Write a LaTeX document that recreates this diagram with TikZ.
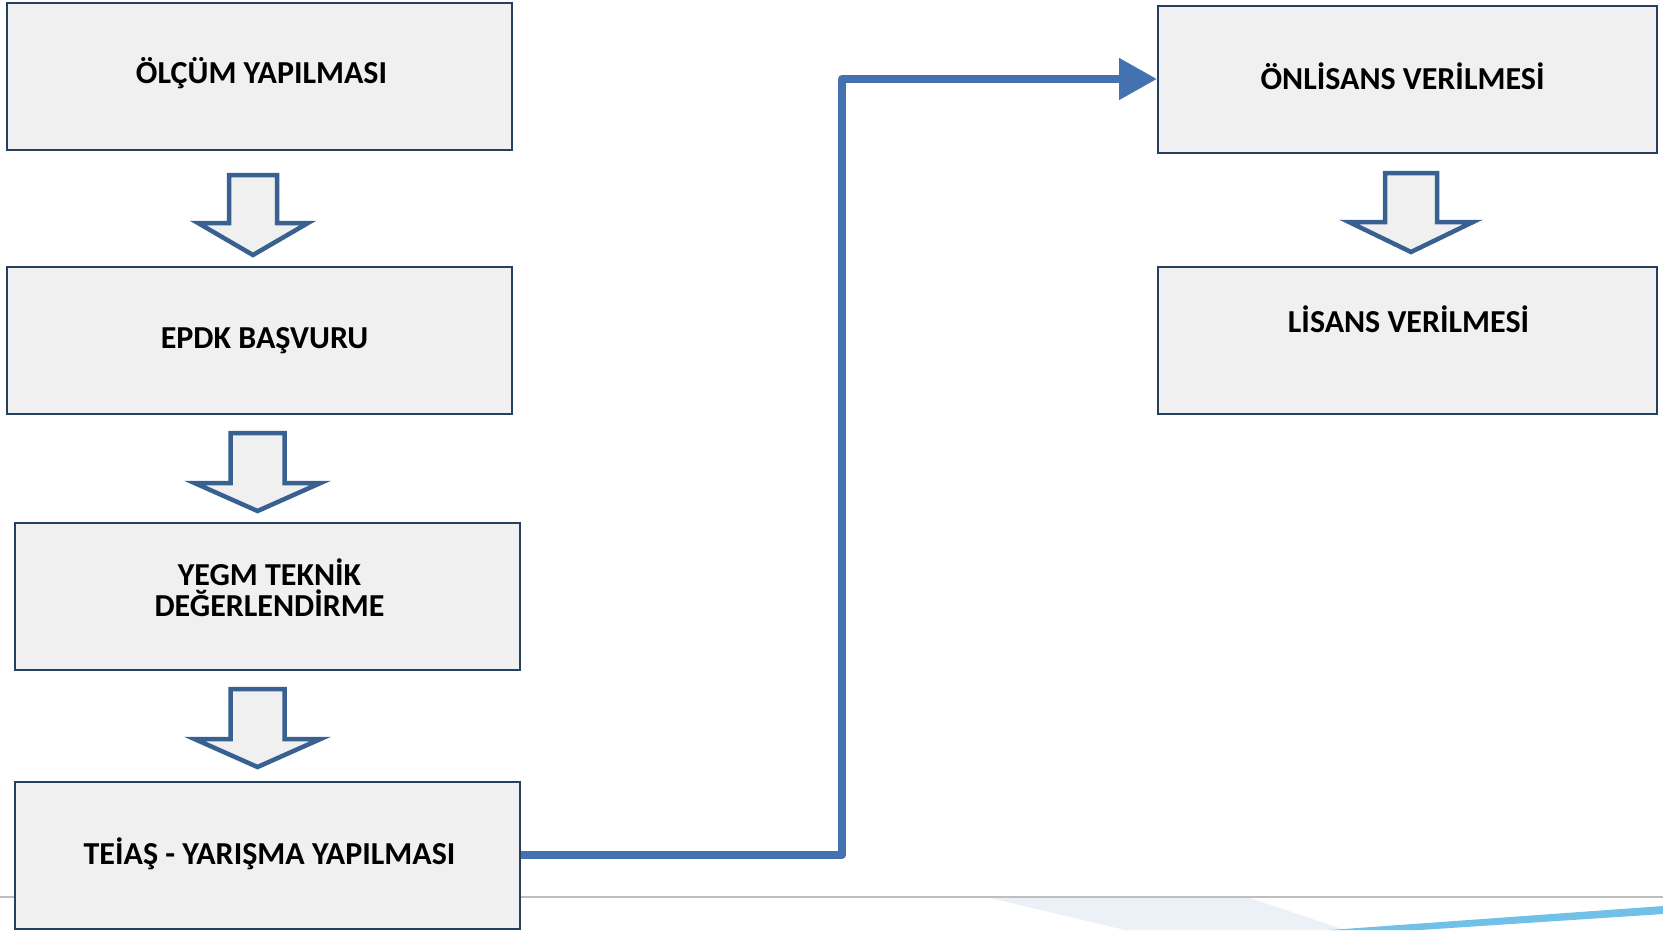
\documentclass[tikz,border=0pt]{standalone}
\usepackage{fontspec}
\setmainfont{Carlito}
\usetikzlibrary{arrows.meta,calc}

\definecolor{boxfill}{RGB}{240,240,240}
\definecolor{boxline}{RGB}{38,64,97}
\definecolor{flowblue}{RGB}{68,114,176}
\definecolor{hollowline}{RGB}{56,96,145}
\definecolor{rulegray}{RGB}{190,190,190}
\definecolor{swooshgray}{RGB}{236,241,247}
\definecolor{swooshblue}{RGB}{112,192,232}

\tikzset{
  steplabel/.style={align=center, font=\fontsize{32}{31}\selectfont\bfseries},
  stepbox/.style={draw=boxline, fill=boxfill, line width=2pt,
    minimum width=505pt, minimum height=147pt, inner sep=0pt},
  flow/.style={draw=flowblue, line width=8pt, line join=round,
    -{Triangle[length=38pt,width=40pt]}},
  pics/downarrow/.style n args={4}{code={
    \draw[draw=hollowline, fill=boxfill, line width=4.5pt]
      (-#1,0) -- (#1,0) -- (#1,#3) -- (#2,#3) -- (0,#4)
      -- (-#2,#3) -- (-#1,#3) -- cycle;
  }}
}

\begin{document}
\begin{tikzpicture}[x=1pt, y=-1pt]
  \useasboundingbox (0,0) rectangle (1663,930);

  % bottom decoration
  \fill[swooshgray] (990,898) -- (1250,898) -- (1345,930) -- (1125,930) -- cycle;
  \fill[swooshblue] (1330,930) -- (1663,906) -- (1663,914) -- (1420,930) -- cycle;
  \draw[rulegray, line width=1.5pt] (0,897) -- (1663,897);

  % left column
  \node[stepbox, label={[steplabel, xshift=2pt, yshift=3pt]center:{ÖLÇÜM YAPILMASI}}]
    (olcum) at (259.5,76) {};
  \node[stepbox, label={[steplabel, xshift=5pt]center:{EPDK BAŞVURU}}]
    (epdk) at (259.5,340.5) {};
  \node[stepbox, label={[steplabel, xshift=2pt, yshift=9pt]center:{YEGM TEKNİK\\DEĞERLENDİRME}}]
    (yegm) at (267.5,596.5) {};
  \node[stepbox, label={[steplabel, xshift=2pt, yshift=1pt]center:{TEİAŞ - YARIŞMA YAPILMASI}}]
    (teias) at (267.5,855) {};

  % right column
  \node[stepbox, minimum width=499pt, label={[steplabel, xshift=-5pt, yshift=3pt]center:{ÖNLİSANS VERİLMESİ}}]
    (onlisans) at (1407.5,79) {};
  \node[stepbox, minimum width=499pt, label={[steplabel, xshift=1pt, yshift=21pt]center:{LİSANS VERİLMESİ}}]
    (lisans) at (1407.5,340.5) {};

  % hollow arrows
  \pic at (253,175) {downarrow={24}{55}{48}{80}};
  \pic at (257.5,433) {downarrow={27}{63}{50}{78}};
  \pic at (257.5,689) {downarrow={27}{63}{50}{78}};
  \pic at (1411,173) {downarrow={26}{62}{49}{79}};

  % connector
  \draw[flow] (teias.east) -- ++(321,0) |- (onlisans.west);
\end{tikzpicture}
\end{document}
